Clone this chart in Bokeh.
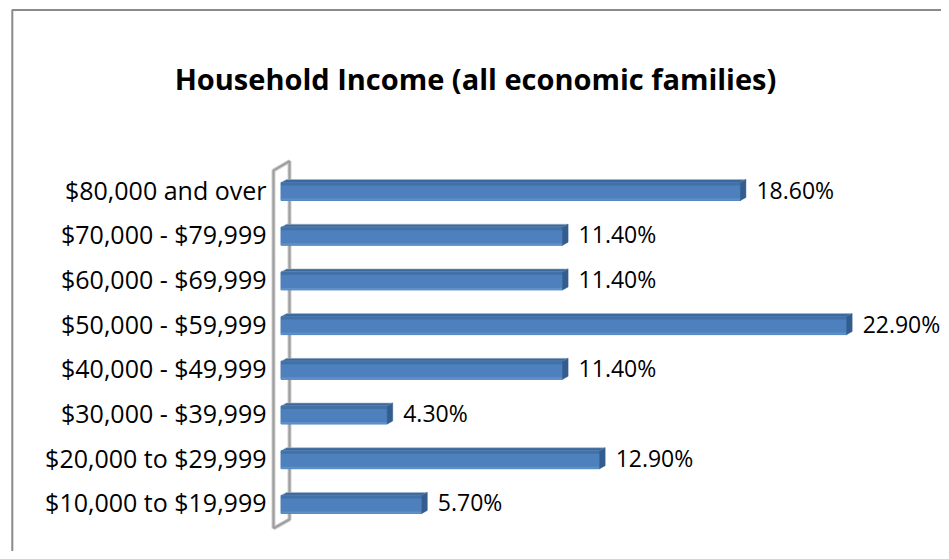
import numpy as np
from bokeh.plotting import figure
from bokeh.models import Range1d
from bokeh.core.properties import value
from bokeh.embed import file_html
from bokeh.resources import INLINE

# ---- data (bottom row first) ----
categories = [
    "$10,000 to $19,999",
    "$20,000 to $29,999",
    "$30,000 - $39,999",
    "$40,000 - $49,999",
    "$50,000 - $59,999",
    "$60,000 - $69,999",
    "$70,000 - $79,999",
    "$80,000 and over",
]
shares = [5.7, 12.9, 4.3, 11.4, 22.9, 11.4, 11.4, 18.6]
share_labels = ["5.70%", "12.90%", "4.30%", "11.40%", "22.90%", "11.40%", "11.40%", "18.60%"]
title_text = "Household Income (all economic families)"

# ---- layout (pixels) ----
W, H = 941, 551
PX_PER_PCT = 24.7
ZERO_PX = 280.5
ROW_PX = 44.7
TOP_ROW_PX = 190.0

n = len(categories)
ypos = np.arange(n, dtype=float)
vals = np.array(shares, dtype=float)
top_y = (n - 1) + TOP_ROW_PX / ROW_PX
bot_y = (n - 1) - (H - TOP_ROW_PX) / ROW_PX
x0 = -ZERO_PX / PX_PER_PCT
x1 = (W - ZERO_PX) / PX_PER_PCT


def dx(px):
    return px / PX_PER_PCT


def dy(px):
    return px / ROW_PX


def cx(px):
    return (px - ZERO_PX) / PX_PER_PCT


def cy(px):
    return top_y - px / ROW_PX


p = figure(width=W, height=H, x_range=Range1d(x0, x1), y_range=Range1d(bot_y, top_y),
           output_backend="svg", toolbar_location=None,
           x_axis_location=None, y_axis_location=None, min_border=0)
p.grid.visible = False
p.outline_line_color = None
p.background_fill_color = "white"
p.border_fill_color = "white"

FONT = value("Open Sans")

# outer chart border (left and top visible)
p.line([cx(11.8), cx(11.8), x1 + 1], [bot_y - 1, cy(9.6), cy(9.6)],
       line_color="#8a8a8a", line_width=2)

# title
p.text(x=[cx(475)], y=[cy(78)], text=[title_text], text_font=FONT,
       text_font_style="bold", text_font_size="29px", text_color="black",
       text_align="center", text_baseline="middle")

# 3D wall on the left
front_x = -dx(7.5)
back_x = dx(8.5)
wall_xs = [front_x, front_x, back_x, back_x, front_x]
wall_ys = [ypos[0] - dy(25), ypos[-1] + dy(20), ypos[-1] + dy(29.3), ypos[0] - dy(16), ypos[0] - dy(25)]
p.line(wall_xs, wall_ys, line_color="#cfcfcf", line_width=4)
p.line(wall_xs, wall_ys, line_color="#9c9c9c", line_width=2)

# bars
BAR_H = 18.0
DEPTH_X = 5.5
DEPTH_Y = 3.0
yc = ypos - dy(1.0)
ytop = yc + dy(BAR_H / 2)
ybot = yc - dy(BAR_H / 2)

# top faces
top_xs = [[0, v, v + dx(DEPTH_X), dx(DEPTH_X)] for v in vals]
top_ys = [[t, t, t + dy(DEPTH_Y), t + dy(DEPTH_Y)] for t in ytop]
p.patches(top_xs, top_ys, fill_color="#3c679a", line_color="#a9b9cc", line_width=0.6)

# front faces
p.hbar(y=yc, left=0, right=vals, height=dy(BAR_H), fill_color="#4d80bd", line_color="#4d80bd")
p.hbar(y=ybot + dy(1.0), left=0, right=vals, height=dy(2), fill_color="#5e8fc8", line_color=None)
p.hbar(y=ytop - dy(1.5), left=0, right=vals, height=dy(3), fill_color="#4271a8", line_color=None)

# side faces
side_xs = [[v, v + dx(DEPTH_X), v + dx(DEPTH_X), v] for v in vals]
side_ys = [[t, t + dy(DEPTH_Y), b + dy(DEPTH_Y), b] for t, b in zip(ytop, ybot)]
p.patches(side_xs, side_ys, fill_color="#335d8e", line_color="#335d8e", line_width=0.5)

# data labels
p.text(x=vals, y=ypos + dy(1), text=share_labels, x_offset=16, text_font=FONT,
       text_font_size="23px", text_color="black", text_align="left", text_baseline="middle")

# category labels
p.text(x=[cx(266)] * n, y=ypos + dy(1), text=categories, text_font=FONT,
       text_font_size="25px", text_color="black", text_align="right", text_baseline="middle")

open("out.html", "w").write(file_html(p, INLINE))
